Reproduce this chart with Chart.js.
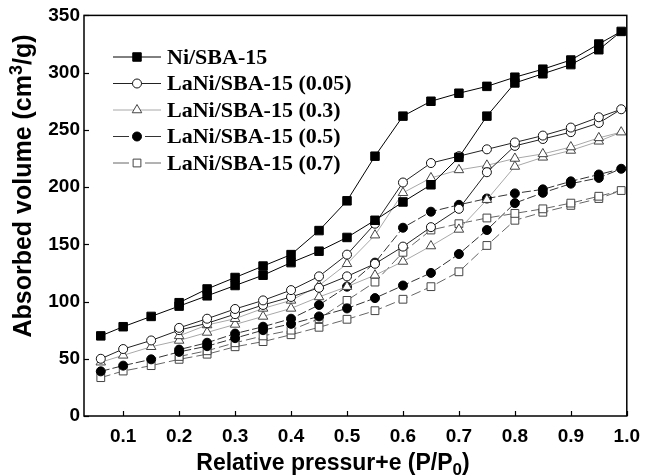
<!DOCTYPE html>
<html>
<head>
<meta charset="utf-8">
<script src="https://cdn.jsdelivr.net/npm/chart.js@4.4.0/dist/chart.umd.min.js"></script>
<style>
  html, body { margin: 0; padding: 0; background: #fff; }
</style>
</head>
<body>
<canvas id="isotermas" width="649" height="475"></canvas>
<script>
// isotermas de adsorcion-desorcion de N2

const muestras = ['Ni/SBA-15', 'LaNi/SBA-15 (0.05)', 'LaNi/SBA-15 (0.3)', 'LaNi/SBA-15 (0.5)', 'LaNi/SBA-15 (0.7)']

// presion relativa P/P0
const presionAds = [0.06, 0.1, 0.15, 0.2, 0.25, 0.3, 0.35, 0.4, 0.45, 0.5, 0.55, 0.6, 0.65, 0.7, 0.75, 0.8, 0.85, 0.9, 0.95, 0.99]
const presionDes = [0.95, 0.9, 0.85, 0.8, 0.75, 0.7, 0.65, 0.6, 0.55, 0.5, 0.45, 0.4, 0.35, 0.3, 0.25, 0.2]

// volumen adsorbido (cm3/g), rama de adsorcion
const adsNi = [70, 78, 87, 96, 105, 114, 123, 134, 144, 156, 171, 187, 202, 226, 262, 291, 299, 307, 320, 336]
const adsLa005 = [50, 58.5, 66, 75, 81, 89, 97, 104, 112, 122, 133, 148, 165, 181, 213, 236, 242, 248, 256, 268]
const adsLa03 = [47, 53, 60.5, 66, 73, 80, 87, 94, 104, 113, 123, 135, 148.5, 163, 189, 218, 226, 232, 240, 248]
const adsLa05 = [39, 44, 49.5, 56, 61, 68, 75, 80.5, 87, 94, 103, 114, 125, 141.5, 162.5, 186, 195, 203, 208, 216]
const adsLa07 = [33.5, 39.3, 44, 49.5, 54, 60.5, 65, 71, 77.5, 84.5, 92, 102, 113, 126, 149, 171, 178, 184, 190, 197]

// rama de desorcion
const desNi = [325, 311, 303, 296, 288, 282, 275, 262, 227, 188, 162, 141, 131, 121, 111, 99]
const desLa005 = [261, 252, 245, 239, 233, 227, 221, 204, 168, 141, 122, 110, 101, 93.5, 85, 77]
const desLa03 = [243, 235, 229, 225, 219, 215, 208, 195, 158, 133, 114, 101, 94, 85, 79.5, 70]
const desLa05 = [211, 205, 198, 194.5, 190, 184.5, 178.5, 164.5, 134, 113, 97, 85, 78, 72, 64, 58]
const desLa07 = [192, 186, 181, 177, 173, 168, 162.5, 143, 117, 101, 85, 75, 70, 64, 57, 52]

const ticksX = [0.1, 0.2, 0.3, 0.4, 0.5, 0.6, 0.7, 0.8, 0.9, 1.0]
const ticksY = [0, 50, 100, 150, 200, 250, 300, 350]

// une las dos ramas en un solo lazo
function lazo(ads, des) {
    const puntos = ads.map((v, i) => ({ x: presionAds[i], y: v }))
    return puntos.concat(des.map((v, i) => ({ x: presionDes[i], y: v })))
}

const estilos = [
    { linea: '#000', borde: '#000', relleno: '#000', punto: 'rect', radio: 6, guion: [] },
    { linea: '#222', borde: '#111', relleno: '#fff', punto: 'circle', radio: 4.5, guion: [] },
    { linea: '#a8a8a8', borde: '#444', relleno: '#fff', punto: 'triangle', radio: 5.5, guion: [] },
    { linea: '#333', borde: '#000', relleno: '#000', punto: 'circle', radio: 4.5, guion: [9, 3] },
    { linea: '#666', borde: '#444', relleno: '#fff', punto: 'rect', radio: 5.5, guion: [10, 4] }
]

const ramas = [[adsNi, desNi], [adsLa005, desLa005], [adsLa03, desLa03], [adsLa05, desLa05], [adsLa07, desLa07]]

const datasets = ramas.map((r, i) => ({
    label: muestras[i],
    data: lazo(r[0], r[1]),
    borderColor: estilos[i].linea,
    borderWidth: 1,
    borderDash: estilos[i].guion,
    pointStyle: estilos[i].punto,
    pointRadius: estilos[i].radio,
    pointBorderColor: estilos[i].borde,
    pointBackgroundColor: estilos[i].relleno,
    pointBorderWidth: 1,
    tension: 0,
    fill: false
}))

const sans = '"Liberation Sans", Arial, sans-serif'

// escribe texto con un indice (sub o super) en medio
function textoIndice(ctx, partes, size, x, y) {
    // partes: [antes, indice, despues, desplazamiento]
    const [antes, indice, despues, dy] = partes
    ctx.font = 'bold ' + size + 'px ' + sans
    const w1 = ctx.measureText(antes).width
    const w3 = ctx.measureText(despues).width
    ctx.font = 'bold ' + Math.round(size * 0.72) + 'px ' + sans
    const w2 = ctx.measureText(indice).width
    let px = x - (w1 + w2 + w3) / 2
    ctx.font = 'bold ' + size + 'px ' + sans
    ctx.fillText(antes, px, y)
    px += w1
    ctx.font = 'bold ' + Math.round(size * 0.72) + 'px ' + sans
    ctx.fillText(indice, px, y + dy)
    px += w2
    ctx.font = 'bold ' + size + 'px ' + sans
    ctx.fillText(despues, px, y)
}

// marco, marcas hacia adentro, titulos de ejes y leyenda
const marco = {
    id: 'marco',
    afterDraw(chart) {
        const ctx = chart.ctx
        const a = chart.chartArea
        const sx = chart.scales.x
        const sy = chart.scales.y
        ctx.save()
        ctx.strokeStyle = '#000'
        ctx.lineWidth = 1.5
        ctx.strokeRect(a.left, a.top, a.right - a.left, a.bottom - a.top)
        ctx.lineWidth = 1.2
        ticksX.forEach(t => {
            const px = Math.round(sx.getPixelForValue(t)) + 0.5
            ctx.beginPath(); ctx.moveTo(px, a.bottom); ctx.lineTo(px, a.bottom - 5); ctx.stroke()
        })
        ticksY.forEach(t => {
            const py = Math.round(sy.getPixelForValue(t)) + 0.5
            ctx.beginPath(); ctx.moveTo(a.left, py); ctx.lineTo(a.left + 5, py); ctx.stroke()
        })

        // titulos
        ctx.fillStyle = '#000'
        ctx.textAlign = 'left'
        ctx.textBaseline = 'alphabetic'
        textoIndice(ctx, ['Relative pressur+e (P/P', '0', ')', 5], 23, 333, 470)
        ctx.save()
        ctx.translate(31, 186)
        ctx.rotate(-Math.PI / 2)
        textoIndice(ctx, ['Absorbed volume (cm', '3', '/g)', -9], 25, 0, 0)
        ctx.restore()

        // leyenda
        chart.data.datasets.forEach((ds, i) => {
            const y = 57 + i * 26.5
            ctx.strokeStyle = ds.borderColor
            ctx.lineWidth = 1
            ctx.setLineDash([])
            ctx.beginPath()
            if (ds.borderDash.length) {
                ctx.moveTo(113, y); ctx.lineTo(129, y)
                ctx.moveTo(145, y); ctx.lineTo(161, y)
            } else {
                ctx.moveTo(113, y); ctx.lineTo(161, y)
            }
            ctx.stroke()
            ctx.strokeStyle = ds.pointBorderColor
            ctx.fillStyle = ds.pointBackgroundColor
            Chart.helpers.drawPoint(ctx, { pointStyle: ds.pointStyle, radius: ds.pointRadius, borderWidth: 1, rotation: 0 }, 137, y)
            ctx.fillStyle = '#000'
            ctx.font = 'bold 22px "Liberation Serif", "Times New Roman", serif'
            ctx.textBaseline = 'middle'
            ctx.fillText(ds.label, 167, y + 1)
        })
        ctx.restore()
    }
}

const fuenteEjes = { family: sans, weight: 'bold', size: 19 }

const config = {
    type: 'line',
    data: { datasets: datasets },
    options: {
        responsive: false,
        animation: false,
        layout: { padding: { top: 15, right: 17, left: 0, bottom: 0 } },
        plugins: { legend: { display: false }, tooltip: { enabled: false } },
        scales: {
            x: {
                type: 'linear',
                min: 0.03,
                max: 1.0,
                grid: { display: false, drawTicks: false, tickLength: 0 },
                border: { display: false },
                ticks: {
                    stepSize: 0.1,
                    includeBounds: false,
                    color: '#000',
                    font: fuenteEjes,
                    padding: 9,
                    maxRotation: 0,
                    callback: v => v.toFixed(1)
                },
                afterFit: s => { s.height = 59 }
            },
            y: {
                min: 0,
                max: 350,
                grid: { display: false, drawTicks: false, tickLength: 0 },
                border: { display: false },
                ticks: {
                    stepSize: 50,
                    color: '#000',
                    font: fuenteEjes,
                    padding: 4
                },
                afterFit: s => { s.width = 84 }
            }
        }
    },
    plugins: [marco]
}

var grafico = new Chart(document.getElementById('isotermas'), config)
</script>
</body>
</html>
